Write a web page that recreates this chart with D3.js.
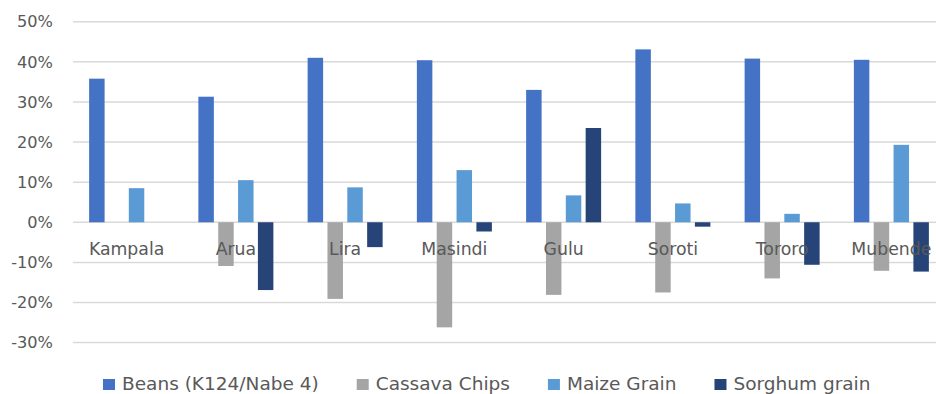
<!DOCTYPE html>
<html>
<head>
<meta charset="utf-8">
<script src="https://cdn.jsdelivr.net/npm/d3@7"></script>
<style>
  html, body { margin: 0; padding: 0; background: #fff; }
  svg { display: block; }
  text { font-family: "DejaVu Sans", sans-serif; fill: #595959; }
</style>
</head>
<body>
<svg id="chart" width="936" height="394"></svg>
<script>
// Price change by market and commodity
const markets = ["Kampala", "Arua", "Lira", "Masindi", "Gulu", "Soroti", "Tororo", "Mubende"];
const seriesNames = ["Beans (K124/Nabe 4)", "Cassava Chips", "Maize Grain", "Sorghum grain"];
const beans   = [0.358, 0.313, 0.410, 0.404, 0.330, 0.431, 0.408, 0.405];
const cassava = [0.000, -0.109, -0.191, -0.262, -0.181, -0.175, -0.140, -0.121];
const maize   = [0.085, 0.105, 0.087, 0.130, 0.067, 0.047, 0.021, 0.193];
const sorghum = [0.000, -0.169, -0.062, -0.023, 0.235, -0.011, -0.106, -0.123];
const yTicks  = [-0.3, -0.2, -0.1, 0, 0.1, 0.2, 0.3, 0.4, 0.5];
const colors  = ["#4472C4", "#A5A5A5", "#5B9BD5", "#264478"];

const seriesValues = [beans, cassava, maize, sorghum];
const svg = d3.select("#chart");

const plotLeft = 72, plotRight = 946;
const x = d3.scaleBand().domain(markets).range([plotLeft, plotRight]).padding(0);
const groupW = 75;
const x1 = d3.scaleBand().domain(seriesNames).range([0, groupW]).paddingInner(0.22).paddingOuter(0);
const y = d3.scaleLinear().domain([-0.3, 0.5]).range([342.6, 21.7]);

// Percent labels with a plain hyphen for negatives
const pct = d => `${Math.round(d * 100)}%`;

// Horizontal gridlines
svg.append("g").selectAll("line").data(yTicks).join("line")
  .attr("x1", plotLeft + 1).attr("x2", plotRight)
  .attr("y1", d => y(d)).attr("y2", d => y(d))
  .attr("stroke", "#D9D9D9").attr("stroke-width", 1.5);

// Y axis labels
const yAxis = d3.axisLeft(y).tickValues(yTicks).tickFormat(pct).tickSize(0).tickPadding(0);
const yg = svg.append("g").attr("transform", "translate(53,0)").call(yAxis);
yg.select(".domain").remove();
yg.selectAll("text").attr("font-size", 16.2).attr("font-family", "DejaVu Sans").attr("fill", "#595959");

// Bars
const rows = markets.map((m, i) => ({ market: m, vals: seriesNames.map((s, j) => ({ series: s, idx: j, v: seriesValues[j][i] })) }));
const groups = svg.append("g").selectAll("g").data(rows).join("g")
  .attr("transform", d => `translate(${x(d.market) + (x.bandwidth() - groupW) / 2},0)`);
groups.selectAll("rect").data(d => d.vals.filter(e => e.v !== 0)).join("rect")
  .attr("x", d => x1(d.series))
  .attr("width", x1.bandwidth())
  .attr("y", d => y(Math.max(0, d.v)))
  .attr("height", d => Math.abs(y(d.v) - y(0)))
  .attr("fill", d => colors[d.idx]);

// Category labels just under the zero line
const xAxis = d3.axisBottom(x).tickSize(0).tickPadding(0);
const xg = svg.append("g").attr("transform", `translate(0,${y(0)})`).call(xAxis);
xg.select(".domain").remove();
xg.selectAll("text").attr("font-size", 17.3).attr("font-family", "DejaVu Sans")
  .attr("fill", "#595959").attr("dy", null).attr("y", 33);

// Legend
const legend = svg.append("g").attr("transform", "translate(103,0)");
let lx = 0;
seriesNames.forEach((name, i) => {
  const g = legend.append("g").attr("transform", `translate(${lx},0)`);
  g.append("rect").attr("x", 0).attr("y", 379).attr("width", 12).attr("height", 11).attr("fill", colors[i]);
  const t = g.append("text").attr("x", 19).attr("y", 390).attr("font-size", 18.5).text(name);
  lx += 19 + t.node().getComputedTextLength() + 38;
});
</script>
</body>
</html>
